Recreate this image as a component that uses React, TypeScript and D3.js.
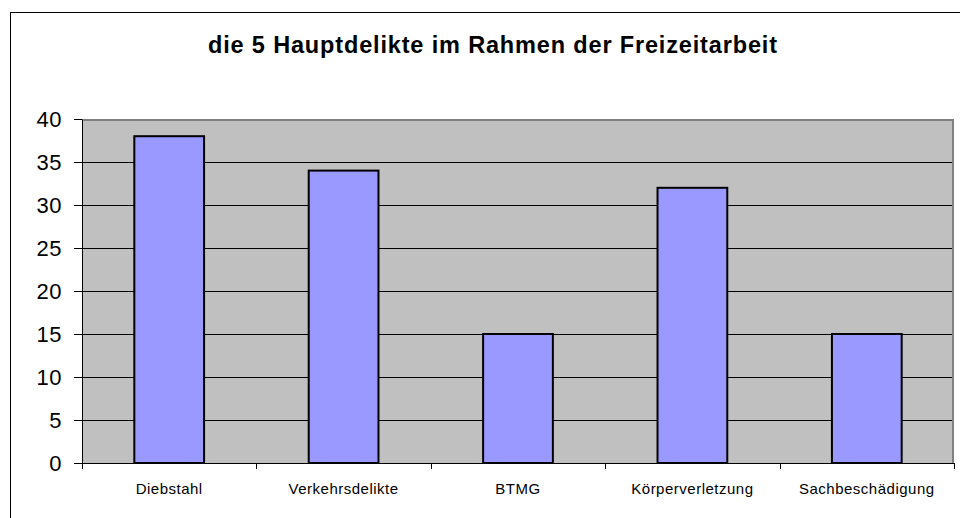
import { useEffect, useRef } from 'react';
import * as d3 from 'd3';

const categories = ['Diebstahl', 'Verkehrsdelikte', 'BTMG', 'Körperverletzung', 'Sachbeschädigung'];
const values = [38, 34, 15, 32, 15];
const yTicks = [0, 5, 10, 15, 20, 25, 30, 35, 40];
const title = 'die 5 Hauptdelikte im Rahmen der Freizeitarbeit';

const App: React.FC = () => {
  const svgRef = useRef<SVGSVGElement | null>(null);

  useEffect(() => {
    if (svgRef.current === null) return;
    const width = 960;
    const height = 518;
    const plot = { left: 82, right: 954, top: 119, bottom: 463 };

    const svg = d3
      .select(svgRef.current)
      .attr('width', width)
      .attr('height', height)
      .style('font-family', '"Liberation Sans", Arial, sans-serif');
    svg.selectAll('*').remove();

    // Rahmen um das ganze Diagramm
    svg
      .append('rect')
      .attr('x', 10.5)
      .attr('y', 12.5)
      .attr('width', 960)
      .attr('height', 520)
      .attr('fill', '#fff')
      .attr('stroke', '#000')
      .attr('stroke-width', 1);

    // Titel
    svg
      .append('text')
      .attr('x', 208)
      .attr('y', 53)
      .attr('textLength', 569)
      .attr('lengthAdjust', 'spacing')
      .style('font-size', '23.5px')
      .style('font-weight', 'bold')
      .text(title);

    const x = d3.scaleBand<string>().domain(categories).range([plot.left, plot.right]).padding(0);
    const y = d3.scaleLinear().domain([0, 40]).range([plot.bottom, plot.top]);

    // Plotfläche
    svg
      .append('rect')
      .attr('x', plot.left)
      .attr('y', plot.top)
      .attr('width', plot.right - plot.left)
      .attr('height', plot.bottom - plot.top)
      .attr('fill', '#c0c0c0');

    // Gitterlinien
    svg
      .selectAll('.grid')
      .data(yTicks.slice(1, -1))
      .enter()
      .append('line')
      .attr('x1', plot.left)
      .attr('x2', plot.right)
      .attr('y1', (d) => Math.round(y(d)) + 0.5)
      .attr('y2', (d) => Math.round(y(d)) + 0.5)
      .attr('stroke', '#000')
      .attr('stroke-width', 1);

    // grauer Rand oben und rechts
    svg
      .append('path')
      .attr('d', `M${plot.left},${plot.top + 1}H${plot.right - 1}V${plot.bottom}`)
      .attr('fill', 'none')
      .attr('stroke', '#808080')
      .attr('stroke-width', 2);

    // Balken
    const barW = x.bandwidth() * 0.4;
    svg
      .selectAll('.bar')
      .data(values)
      .enter()
      .append('rect')
      .attr('x', (d, i) => x(categories[i])! + (x.bandwidth() - barW) / 2)
      .attr('y', (d) => y(d))
      .attr('width', barW)
      .attr('height', (d) => y(0) - y(d))
      .attr('fill', '#9999ff')
      .attr('stroke', '#000')
      .attr('stroke-width', 2);

    // Y-Achse
    const yAxis = svg
      .append('g')
      .attr('transform', `translate(${plot.left},0)`)
      .call(d3.axisLeft(y).tickValues(yTicks).tickSize(8).tickPadding(12).tickSizeOuter(0));
    yAxis.select('.domain').attr('stroke', '#000');
    yAxis
      .selectAll('.tick text')
      .style('font-size', '22px')
      .style('letter-spacing', '0.5px')
      .attr('fill', '#000')
      .attr('font-family', null);

    // X-Achse
    svg
      .append('line')
      .attr('x1', plot.left - 8)
      .attr('x2', plot.right)
      .attr('y1', plot.bottom + 0.5)
      .attr('y2', plot.bottom + 0.5)
      .attr('stroke', '#000');

    const bounds = categories.map((c) => x(c)!).concat([plot.right]);
    svg
      .selectAll('.xtick')
      .data(bounds)
      .enter()
      .append('line')
      .attr('x1', (d) => Math.round(d) + 0.5)
      .attr('x2', (d) => Math.round(d) + 0.5)
      .attr('y1', plot.bottom)
      .attr('y2', plot.bottom + 6)
      .attr('stroke', '#000');

    svg
      .selectAll('.xlabel')
      .data(categories)
      .enter()
      .append('text')
      .attr('x', (d) => x(d)! + x.bandwidth() / 2)
      .attr('y', 494)
      .attr('text-anchor', 'middle')
      .style('font-size', '15px')
      .style('letter-spacing', '0.5px')
      .text((d) => d);
  }, []);

  return (
    <div style={{ position: 'absolute', left: 0, top: 0 }}>
      <svg ref={svgRef}></svg>
    </div>
  );
};

export default App;
